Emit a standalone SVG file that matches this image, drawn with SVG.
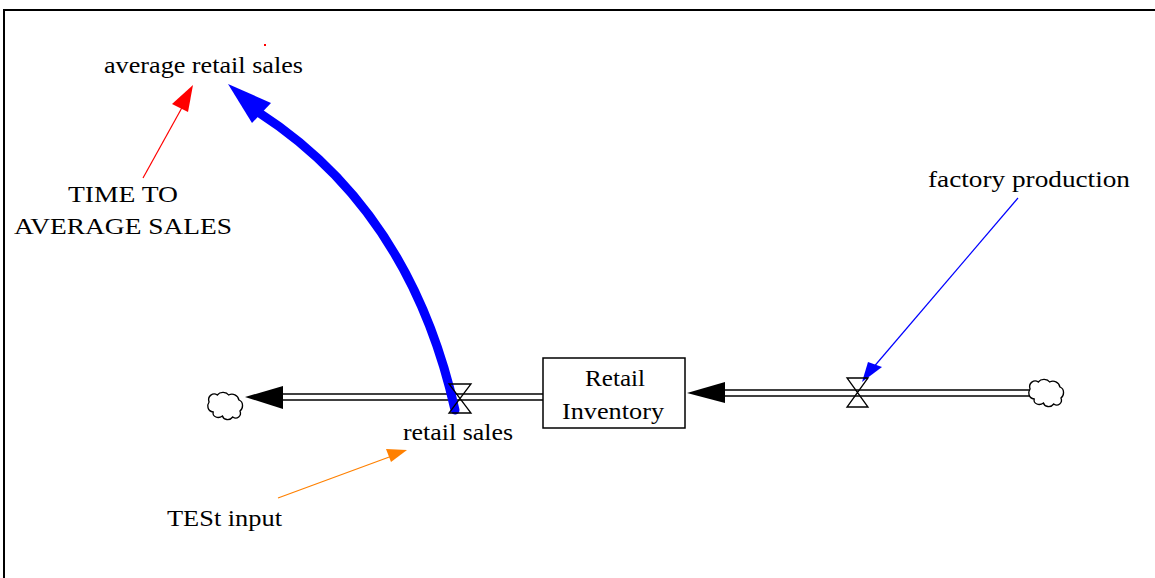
<svg xmlns="http://www.w3.org/2000/svg" width="1155" height="578" viewBox="0 0 1155 578">
<style>
text{font-family:"Liberation Serif","Times New Roman",serif;font-size:23px;fill:#000}
.pipe{stroke:#000;stroke-width:1.5;fill:none}
.valve{stroke:#000;stroke-width:1.3;fill:none}
.cloud{stroke:#000;stroke-width:1.3;fill:#fff}
</style>
<defs>
<path id="cloud" d="M 2,10 C 0,4 6,0 10,3 C 13,-1 19,0 21,3 C 25,1 30,3 31,8 C 36,10 35,17 32,19 C 34,24 29,28 25,25 C 22,29 16,28 15,24 C 11,27 5,25 6,20 C 0,19 0,13 2,10 Z"/>
</defs>
<rect width="1155" height="578" fill="#fff"/>
<g id="frame">
<line x1="4" y1="10" x2="1155" y2="10" stroke="#000" stroke-width="2"/>
<line x1="4" y1="9" x2="4" y2="578" stroke="#000" stroke-width="2"/>
</g>
<g id="connectors">
<line class="pipe" x1="282" y1="394" x2="543" y2="394"/>
<line class="pipe" x1="282" y1="400" x2="543" y2="400"/>
<polygon points="245,397 283,386 283,409" fill="#000"/>
<line class="pipe" x1="724" y1="390" x2="1030" y2="390"/>
<line class="pipe" x1="724" y1="396" x2="1030" y2="396"/>
<polygon points="687,393 725,382 725,403" fill="#000"/>
<path d="M 455,410 Q 410,210 258,112" stroke="#0000ff" stroke-width="9" fill="none" stroke-linecap="round"/>
<polygon points="228,84 271,103 252,123" fill="#0000ff"/>
<line x1="143" y1="178" x2="184" y2="104" stroke="#ff0000" stroke-width="1.2"/>
<polygon points="193,85 172,104 188,112" fill="#ff0000"/>
<rect x="264" y="44" width="2" height="2" fill="#ff0000"/>
<line x1="278" y1="498" x2="392" y2="456" stroke="#ff8000" stroke-width="1.2"/>
<polygon points="407,450 386,449 391,462" fill="#ff8000"/>
<line x1="1018" y1="198" x2="872" y2="369" stroke="#0000ff" stroke-width="1.2"/>
<polygon points="862,382 868,362 882,367" fill="#0000ff"/>
</g>
<g id="cloud-left"><use href="#cloud" class="cloud" transform="translate(207,392) scale(1.03,1.0)"/></g>
<g id="cloud-right"><use href="#cloud" class="cloud" transform="translate(1028,379) scale(1.03,1.0)"/></g>
<g id="retail-inventory">
<rect x="543" y="358" width="142" height="70" fill="#fff" stroke="#000" stroke-width="1.5"/>
<text x="585" y="386" textLength="60" lengthAdjust="spacingAndGlyphs">Retail</text>
<text x="562" y="419" textLength="102" lengthAdjust="spacingAndGlyphs">Inventory</text>
</g>
<g id="retail-sales">
<path class="valve" d="M 449,384 H 471 L 449,413 H 471 Z"/>
<text x="403" y="440" textLength="110" lengthAdjust="spacingAndGlyphs">retail sales</text>
</g>
<g id="factory-production-valve">
<path class="valve" d="M 847,378 H 868 L 847,407 H 868 Z"/>
</g>
<g id="average-retail-sales">
<text x="104" y="73" textLength="199" lengthAdjust="spacingAndGlyphs">average retail sales</text>
</g>
<g id="time-to-average-sales">
<text x="68" y="202" textLength="110" lengthAdjust="spacingAndGlyphs">TIME TO</text>
<text x="14" y="234" textLength="218" lengthAdjust="spacingAndGlyphs">AVERAGE SALES</text>
</g>
<g id="factory-production">
<text x="928" y="187" textLength="202" lengthAdjust="spacingAndGlyphs">factory production</text>
</g>
<g id="test-input">
<text x="167" y="526" textLength="115" lengthAdjust="spacingAndGlyphs">TESt input</text>
</g>
</svg>
